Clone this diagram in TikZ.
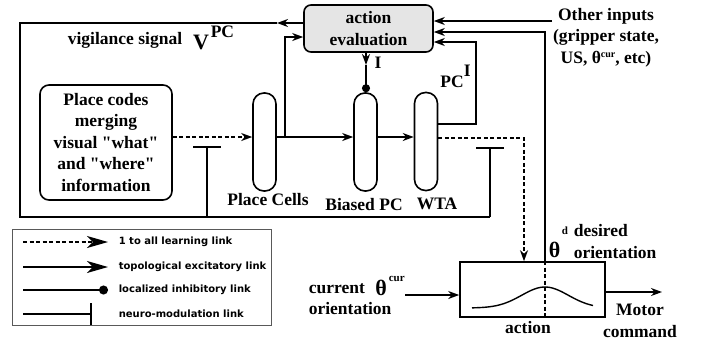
\documentclass[tikz,border=0pt]{standalone}
\usepackage{fontspec}
\setmainfont{Liberation Serif}
\newfontfamily\legfont{DejaVu Sans}
\usetikzlibrary{arrows.meta,calc}
\begin{document}
\begin{tikzpicture}[x=1pt,y=-1pt,line width=1.6pt,
  txt/.style={font=\bfseries\fontsize{17.5}{21.5}\selectfont,inner sep=0pt,align=center},
  big/.style={font=\bfseries\fontsize{22}{22}\selectfont,inner sep=0pt},
  sup/.style={font=\bfseries\fontsize{11}{11}\selectfont,inner sep=0pt},
  pill/.style={draw,rounded corners=11pt,minimum width=23pt,minimum height=98pt,inner sep=0pt},
  ex/.style={-{Stealth[length=11pt,width=8pt,inset=3.5pt]}},
  dsh/.style={dash pattern=on 4pt off 2.5pt},
  nm/.style={-{Bar[width=28pt]}},
  inh/.style={-{Circle[length=8pt]}},
  legarrow/.style={-{Stealth[length=21pt,width=12pt,inset=6pt]}},
  legtxt/.style={font=\legfont\bfseries\fontsize{10}{12}\selectfont,inner sep=0pt,anchor=west}]
\useasboundingbox (0,0) rectangle (706,341);

% boxes
\node[draw,rounded corners=7pt,fill=gray!20,minimum width=129pt,minimum height=47pt,txt] (ae) at (368.5,28.5) {action\\evaluation};
\node[draw,rounded corners=9pt,minimum width=132pt,minimum height=115pt,txt] (pcb) at (106,142.5) {Place codes\\merging\\visual \textquotedbl what\textquotedbl\\and \textquotedbl where\textquotedbl\\information};
\node[pill] (pc) at (264.5,142) {};
\node[pill] (bpc) at (365.5,142) {};
\node[pill] (wta) at (426,141.5) {};
\node[draw,minimum width=145pt,minimum height=55pt,inner sep=0pt] (mb) at (532.5,289.5) {};

% labels
\node[txt] (vs) at (125,40) {vigilance signal};
\node[big] (vv) at (201,42) {V};
\node[txt,anchor=west] (vpc) at (210,32) {PC};
\node[txt] (lpc) at (268,200) {Place Cells};
\node[txt] (lbpc) at (364,205) {Biased PC};
\node[txt] (lwta) at (437,204) {WTA};
\node[txt] (lpci) at (452,82) {PC};
\node[txt,anchor=west] (lpcis) at (463,71) {I};
\node[txt] (li) at (378,63) {I};
\node[txt] (oi) at (606,37.5) {Other inputs\\(gripper state,\\US, θ\raisebox{6pt}{\fontsize{10}{10}\selectfont cur}, etc)};
\node[txt,align=left,anchor=west] (ldes) at (573,241.5) {desired\\orientation};
\node[big] (thd) at (554.5,250) {θ};
\node[sup,anchor=west] (thds) at (561,231) {d};
\node[txt,align=left,anchor=west] (lcur) at (308,299) {current\\orientation};
\node[big] (thc) at (381,288) {θ};
\node[sup,anchor=west] (thcs) at (388,279) {cur};
\node[txt] (lact) at (528,328) {action};
\node[txt] (lmot) at (640,321) {Motor\\command};

% coordinates
\coordinate (vtip) at (277,23);
\coordinate (vl) at (20,23);
\coordinate (vb) at (20,217);
\coordinate (vr) at (490,217);
\coordinate (nm2) at (490,147);
\coordinate (vm) at (207,217);
\coordinate (nm1) at (207,146);
\coordinate (br) at (285,137);
\coordinate (itip) at (366,65);
\coordinate (wup) at (476,42);
\coordinate (oin) at (552,21);
\coordinate (cin) at (405,295);
\coordinate (mout) at (662,292);

% connectors
\draw[ex] (ae.west |- vtip) -- (vtip);
\draw (vtip) -- (vl) -- (vb) -- (vr);
\draw[nm] (vr) -- (nm2);
\draw[nm] (vm) -- (nm1);
\draw[dsh,ex] (pcb.east |- br) -- (pc.west |- br);
\draw[ex] (pc.east |- br) -- (bpc.west |- br);
\draw[ex] (br) |- (ae.west |- 0,37);
\draw[ex] (bpc.east |- br) -- (wta.west |- br);
\draw[ex] (ae.south -| itip) -- (itip);
\draw[inh] (itip) -- (bpc.north -| itip);
\draw[ex] (wta.east |- 0,124) -| (wup) -- (ae.east |- wup);
\draw[dsh,ex] (wta.east |- 0,138) -| (mb.north -| 524,0);
\draw[ex] (oin) -- (ae.east |- oin);
\draw[ex] (mb.north -| 545,0) |- (ae.east |- 0,32);
\draw[dsh,line width=1.3pt] (mb.north -| 545,0) -- (mb.south -| 545,0);
\draw[line width=1.4pt] plot[domain=472:593,samples=80] (\x,{308-21*exp(-((\x-545)/33)^2)});
\draw[ex] (cin) -- (mb.west |- cin);
\draw[ex] (mb.east |- mout) -- (mout);

% legend
\node[draw=black!65,line width=1pt,minimum width=259pt,minimum height=96pt,inner sep=0pt] (leg) at (141.5,277) {};
\coordinate (l1a) at (23,242); \coordinate (l1b) at (108,242);
\coordinate (l2a) at (23,267); \coordinate (l2b) at (108,267);
\coordinate (l3a) at (23,290); \coordinate (l3b) at (108,290);
\coordinate (l4a) at (23,314); \coordinate (l4b) at (92,314);
\draw[dsh,legarrow] (l1a) -- (l1b);
\draw[legarrow] (l2a) -- (l2b);
\draw[-{Circle[length=9pt]}] (l3a) -- (l3b);
\draw[-{Bar[width=22pt]}] (l4a) -- (l4b);
\node[legtxt] (t1) at (118,242) {1 to all learning link};
\node[legtxt] (t2) at (118,267) {topological excitatory link};
\node[legtxt] (t3) at (118,290) {localized inhibitory link};
\node[legtxt] (t4) at (118,314) {neuro-modulation link};
\end{tikzpicture}
\end{document}
